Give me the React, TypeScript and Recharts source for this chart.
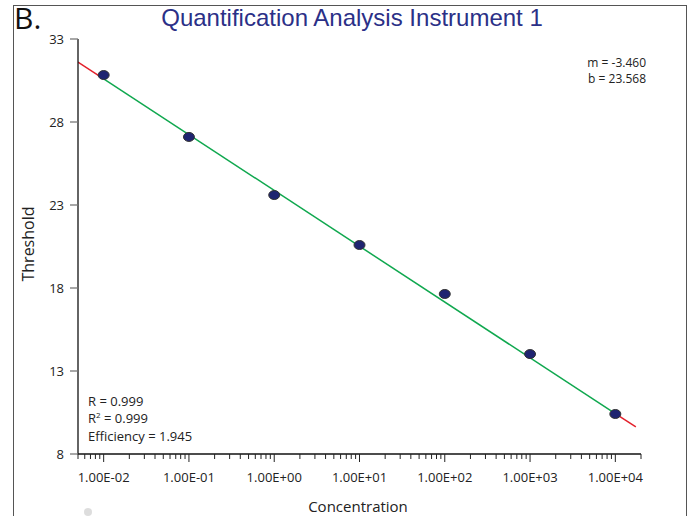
import React from "react";
import { ComposedChart, XAxis, YAxis, Line, Scatter } from "recharts";

// standard curve samples (concentration, threshold cycle)
const concentrations = [0.01, 0.1, 1, 10, 100, 1000, 10000];
const thresholds = [30.83, 27.1, 23.6, 20.59, 17.64, 14.02, 10.41];

// fitted line: red extrapolated ends, green between samples
const fitLeft = [
  { x: 0.005, y: 31.61 },
  { x: 0.01, y: 30.6 },
];
const fitMid = [
  { x: 0.01, y: 30.6 },
  { x: 10000, y: 10.43 },
];
const fitRight = [
  { x: 10000, y: 10.43 },
  { x: 17400, y: 9.63 },
];

const majorTicks = [0.01, 0.1, 1, 10, 100, 1000, 10000];
const majorLabels = ["1.00E-02", "1.00E-01", "1.00E+00", "1.00E+01", "1.00E+02", "1.00E+03", "1.00E+04"];
const minorTicks = [
  0.005, 0.006, 0.007, 0.008, 0.009,
  0.02, 0.03, 0.04, 0.05, 0.06, 0.07, 0.08, 0.09,
  0.2, 0.3, 0.4, 0.5, 0.6, 0.7, 0.8, 0.9,
  2, 3, 4, 5, 6, 7, 8, 9,
  20, 30, 40, 50, 60, 70, 80, 90,
  200, 300, 400, 500, 600, 700, 800, 900,
  2000, 3000, 4000, 5000, 6000, 7000, 8000, 9000,
  20000,
];
const yTicks = [8, 13, 18, 23, 28, 33];

const points = concentrations.map((c, i) => ({ x: c, y: thresholds[i] }));
const allXTicks = [...minorTicks, ...majorTicks].sort((a, b) => a - b);

const labelFont = "'Open Sans', 'Noto Sans', sans-serif";

function XTick(props: any) {
  const { x, y, payload } = props;
  const idx = majorTicks.indexOf(payload.value);
  const major = idx >= 0;
  return (
    <g>
      <line x1={x} x2={x} y1={y} y2={y + (major ? 8 : 5)} stroke="#222" strokeWidth={1} />
      {major && (
        <text x={x} y={y + 28} textAnchor="middle" fontSize={13} fill="#222" fontFamily={labelFont}>
          {majorLabels[idx]}
        </text>
      )}
    </g>
  );
}

function Dot(props: any) {
  const { cx, cy } = props;
  return <ellipse cx={cx} cy={cy} rx={5.5} ry={4.5} fill="#1f2470" stroke="#333" strokeWidth={1} />;
}

export default function App() {
  return (
    <div style={{ position: "relative", width: 689, height: 516, overflow: "hidden", background: "#fff" }}>
      <style>{"body{margin:0}"}</style>
      <div
        style={{
          position: "absolute",
          left: 13,
          top: 5,
          width: 672,
          height: 600,
          border: "1.5px solid #555",
        }}
      />
      <ComposedChart
        width={689}
        height={516}
        margin={{ top: 39, right: 48, left: 0, bottom: 0 }}
        style={{ position: "absolute", left: 0, top: 0 }}
      >
        <XAxis
          dataKey="x"
          type="number"
          scale="log"
          domain={[0.005, 20000]}
          ticks={allXTicks}
          interval={0}
          height={62}
          tickSize={0}
          tickMargin={0}
          tickLine={false}
          tick={<XTick />}
          axisLine={{ stroke: "#111", strokeWidth: 1.3 }}
          allowDataOverflow
        />
        <YAxis
          dataKey="y"
          type="number"
          domain={[8, 33]}
          ticks={yTicks}
          width={78}
          tickSize={8}
          tickMargin={6}
          tickLine={{ stroke: "#777", strokeWidth: 1.3 }}
          axisLine={{ stroke: "#111", strokeWidth: 1.3 }}
          tick={{ fontSize: 13, fill: "#222", fontFamily: labelFont }}
          allowDataOverflow
        />
        <Line data={fitLeft} dataKey="y" stroke="#e3202b" strokeWidth={1.5} dot={false} isAnimationActive={false} />
        <Line data={fitMid} dataKey="y" stroke="#10a84f" strokeWidth={1.5} dot={false} isAnimationActive={false} />
        <Line data={fitRight} dataKey="y" stroke="#e3202b" strokeWidth={1.5} dot={false} isAnimationActive={false} />
        <Scatter data={points} dataKey="y" shape={<Dot />} isAnimationActive={false} />
      </ComposedChart>

      <div
        style={{
          position: "absolute",
          left: 14,
          top: 7,
          fontSize: 30,
          lineHeight: "22px",
          fontFamily: labelFont,
          color: "#111",
        }}
      >
        B.
      </div>
      <div
        style={{
          position: "absolute",
          left: 0,
          width: 704,
          top: 4,
          textAlign: "center",
          fontSize: 24,
          lineHeight: "28px",
          fontFamily: "'Liberation Sans', Arial, sans-serif",
          color: "#2b3087",
        }}
      >
        Quantification Analysis Instrument 1
      </div>
      <div
        style={{
          position: "absolute",
          left: 550,
          width: 96,
          top: 55,
          textAlign: "right",
          fontSize: 12,
          lineHeight: "16px",
          fontFamily: labelFont,
          color: "#222",
        }}
      >
        <div>m = -3.460</div>
        <div>b = 23.568</div>
      </div>
      <div
        style={{
          position: "absolute",
          left: 88,
          top: 393,
          fontSize: 13,
          lineHeight: "16.5px",
          fontFamily: labelFont,
          color: "#222",
        }}
      >
        <div>R = 0.999</div>
        <div>
          R<span style={{ fontSize: 8, position: "relative", top: -5 }}>2</span> = 0.999
        </div>
        <div>Efficiency = 1.945</div>
      </div>
      <div
        style={{
          position: "absolute",
          left: 28,
          top: 244,
          transform: "translate(-50%, -50%) rotate(-90deg)",
          fontSize: 16,
          fontFamily: labelFont,
          color: "#222",
          whiteSpace: "nowrap",
        }}
      >
        Threshold
      </div>
      <div
        style={{
          position: "absolute",
          left: 358,
          top: 496,
          transform: "translateX(-50%)",
          fontSize: 15,
          fontFamily: labelFont,
          color: "#222",
          whiteSpace: "nowrap",
        }}
      >
        Concentration
      </div>
      <div
        style={{
          position: "absolute",
          left: 84,
          top: 508,
          width: 8,
          height: 8,
          borderRadius: "50%",
          background: "#ddd",
        }}
      />
    </div>
  );
}
